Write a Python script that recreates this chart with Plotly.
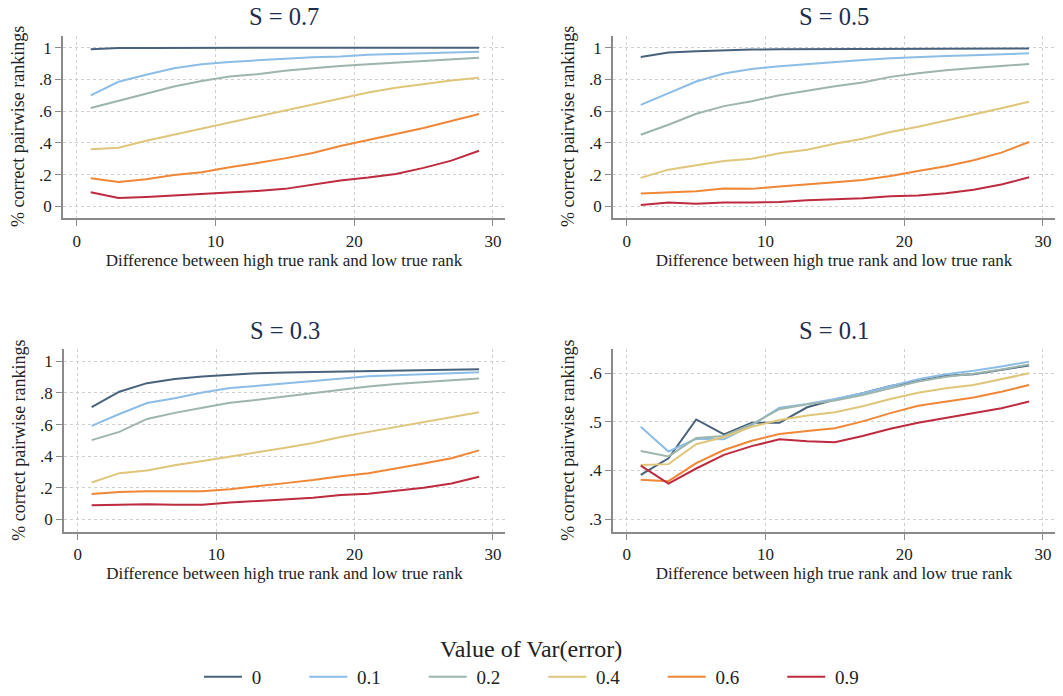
import plotly.graph_objects as go

# ---------------- data ----------------
x_diff = [1, 3, 5, 7, 9, 11, 13, 15, 17, 19, 21, 23, 25, 27, 29]
var_labels = ["0", "0.1", "0.2", "0.4", "0.6", "0.9"]
panel_titles = ["S = 0.7", "S = 0.5", "S = 0.3", "S = 0.1"]

s07_v0 = [0.99, 0.998, 0.998, 0.999, 0.999, 0.999, 0.999, 0.999, 0.999, 0.999, 0.999, 0.999, 0.999, 0.999, 0.999]
s07_v1 = [0.70, 0.785, 0.83, 0.87, 0.895, 0.91, 0.92, 0.93, 0.94, 0.945, 0.955, 0.96, 0.965, 0.97, 0.975]
s07_v2 = [0.62, 0.665, 0.71, 0.755, 0.79, 0.818, 0.833, 0.855, 0.87, 0.885, 0.895, 0.905, 0.915, 0.925, 0.937]
s07_v4 = [0.36, 0.37, 0.414, 0.452, 0.49, 0.531, 0.57, 0.607, 0.644, 0.684, 0.718, 0.747, 0.772, 0.793, 0.81]
s07_v6 = [0.178, 0.155, 0.172, 0.199, 0.215, 0.247, 0.274, 0.303, 0.337, 0.381, 0.418, 0.456, 0.494, 0.538, 0.582]
s07_v9 = [0.09, 0.054, 0.06, 0.069, 0.079, 0.088, 0.098, 0.111, 0.138, 0.163, 0.182, 0.205, 0.243, 0.289, 0.351]

s05_v0 = [0.941, 0.969, 0.978, 0.985, 0.988, 0.99, 0.991, 0.992, 0.993, 0.993, 0.994, 0.994, 0.995, 0.995, 0.995]
s05_v1 = [0.64, 0.715, 0.787, 0.837, 0.866, 0.883, 0.897, 0.912, 0.923, 0.933, 0.941, 0.947, 0.952, 0.957, 0.964]
s05_v2 = [0.452, 0.515, 0.584, 0.632, 0.663, 0.70, 0.728, 0.757, 0.78, 0.816, 0.839, 0.858, 0.872, 0.885, 0.897]
s05_v4 = [0.18, 0.232, 0.259, 0.287, 0.301, 0.335, 0.358, 0.395, 0.427, 0.469, 0.502, 0.54, 0.577, 0.619, 0.659]
s05_v6 = [0.082, 0.09, 0.096, 0.113, 0.111, 0.126, 0.138, 0.153, 0.167, 0.192, 0.224, 0.253, 0.291, 0.339, 0.406]
s05_v9 = [0.01, 0.025, 0.017, 0.025, 0.025, 0.029, 0.04, 0.044, 0.052, 0.065, 0.069, 0.084, 0.105, 0.138, 0.184]

s03_v0 = [0.711, 0.808, 0.862, 0.889, 0.904, 0.914, 0.925, 0.93, 0.933, 0.935, 0.937, 0.94, 0.942, 0.944, 0.95]
s03_v1 = [0.592, 0.667, 0.736, 0.766, 0.803, 0.831, 0.845, 0.86, 0.877, 0.891, 0.906, 0.912, 0.918, 0.925, 0.931]
s03_v2 = [0.502, 0.554, 0.636, 0.674, 0.707, 0.738, 0.757, 0.778, 0.797, 0.818, 0.841, 0.856, 0.87, 0.881, 0.891]
s03_v4 = [0.234, 0.293, 0.31, 0.343, 0.37, 0.397, 0.425, 0.454, 0.483, 0.521, 0.554, 0.586, 0.617, 0.646, 0.678]
s03_v6 = [0.161, 0.174, 0.178, 0.178, 0.178, 0.192, 0.209, 0.23, 0.249, 0.274, 0.293, 0.322, 0.354, 0.387, 0.437]
s03_v9 = [0.09, 0.094, 0.096, 0.094, 0.094, 0.107, 0.117, 0.128, 0.138, 0.155, 0.163, 0.182, 0.201, 0.228, 0.27]

s01_v0 = [0.391, 0.425, 0.505, 0.474, 0.498, 0.498, 0.530, 0.546, 0.559, 0.574, 0.584, 0.595, 0.598, 0.607, 0.616]
s01_v1 = [0.49, 0.439, 0.465, 0.464, 0.493, 0.529, 0.537, 0.547, 0.559, 0.574, 0.588, 0.598, 0.605, 0.614, 0.624]
s01_v2 = [0.44, 0.429, 0.467, 0.471, 0.495, 0.526, 0.536, 0.544, 0.555, 0.569, 0.583, 0.593, 0.599, 0.608, 0.618]
s01_v4 = [0.411, 0.413, 0.454, 0.469, 0.49, 0.504, 0.513, 0.52, 0.532, 0.547, 0.56, 0.569, 0.576, 0.588, 0.60]
s01_v6 = [0.381, 0.378, 0.415, 0.442, 0.461, 0.475, 0.481, 0.487, 0.501, 0.518, 0.533, 0.542, 0.55, 0.562, 0.576]
s01_v9 = [0.41, 0.373, 0.404, 0.432, 0.45, 0.464, 0.46, 0.458, 0.471, 0.486, 0.498, 0.508, 0.519, 0.528, 0.542]

x_tickvals = [0, 10, 20, 30]
y_tickvals_main = [0, 0.2, 0.4, 0.6, 0.8, 1.0]
y_ticktext_main = ["0", ".2", ".4", ".6", ".8", "1"]
y_tickvals_s01 = [0.3, 0.4, 0.5, 0.6]
y_ticktext_s01 = [".3", ".4", ".5", ".6"]

x_title = "Difference between high true rank and low true rank"
y_title = "% correct pairwise rankings"
legend_title = "Value of Var(error)"

# ---------------- styling ----------------
colors = ["#48627c", "#8cbde6", "#9db5ac", "#dfc67a", "#f08737", "#be2a3e"]
FONT = "Liberation Serif"
TXT = "#222222"
W, H = 1063, 696

panels = [
    [s07_v0, s07_v1, s07_v2, s07_v4, s07_v6, s07_v9],
    [s05_v0, s05_v1, s05_v2, s05_v4, s05_v6, s05_v9],
    [s03_v0, s03_v1, s03_v2, s03_v4, s03_v6, s03_v9],
    [s01_v0, s01_v1, s01_v2, s01_v4, s01_v6, s01_v9],
]

# pixel boxes of plot areas (left, right, top, bottom)
boxes = [(63, 505, 36, 220), (613, 1055, 36, 220), (64, 505, 352, 536), (613, 1055, 352, 536)]
yranges = [[-0.075, 1.075], [-0.075, 1.075], [-0.08, 1.075], [0.273, 0.649]]

fig = go.Figure()
layout = {}
annotations = []
NBSP = "\u00a0"
for i, series in enumerate(panels):
    n = "" if i == 0 else str(i + 1)
    xa, ya = "x" + n, "y" + n
    for j, vals in enumerate(series):
        fig.add_trace(go.Scatter(
            x=x_diff, y=vals, mode="lines", xaxis=xa, yaxis=ya,
            line=dict(color=colors[j], width=2),
            name=NBSP + var_labels[j] + NBSP * 8, legendgroup=var_labels[j], showlegend=(i == 0),
        ))
    l, r, t, b = boxes[i]
    common = dict(
        showline=True, linecolor="#8a8a8a", linewidth=1.5, mirror=False,
        ticks="outside", ticklen=6, tickcolor="#8a8a8a", tickwidth=1.3,
        showgrid=True, gridcolor="#cfcfcf", griddash="dot", gridwidth=1,
        zeroline=False, automargin=False,
        tickfont=dict(family=FONT, size=17, color=TXT),
    )
    layout["xaxis" + n] = dict(
        common, domain=[l / W, r / W], anchor=ya, range=[-1.0, 30.87],
        tickvals=x_tickvals, ticktext=[str(v) for v in x_tickvals],
        title=dict(text=x_title, font=dict(family=FONT, size=17, color=TXT), standoff=4),
    )
    if i < 3:
        tv, tt = y_tickvals_main, y_ticktext_main
    else:
        tv, tt = y_tickvals_s01, y_ticktext_s01
    layout["yaxis" + n] = dict(
        common, domain=[1 - b / H, 1 - t / H], anchor=xa, range=yranges[i],
        tickvals=tv, ticktext=tt,
    )
    annotations.append(dict(
        text=y_title, textangle=-90, xref="paper", yref="paper",
        x=(l - 45) / W, y=1 - (t + b) / 2 / H, showarrow=False,
        font=dict(family=FONT, size=18, color=TXT), xanchor="center", yanchor="middle",
    ))
    annotations.append(dict(
        text=panel_titles[i], xref="paper", yref="paper",
        x=(l + r) / 2 / W, y=1 - (t - 19) / H, showarrow=False,
        font=dict(family=FONT, size=24.5, color="#1e2d50"), xanchor="center", yanchor="middle",
    ))

annotations.append(dict(
    text=legend_title, xref="paper", yref="paper", x=531 / W, y=1 - 654 / H,
    showarrow=False, font=dict(family=FONT, size=24, color=TXT),
    xanchor="center", yanchor="middle",
))

fig.update_layout(
    **layout,
    width=W, height=H, autosize=False,
    margin=dict(l=0, r=0, t=0, b=0),
    paper_bgcolor="white", plot_bgcolor="white",
    font=dict(family=FONT, color=TXT),
    annotations=annotations,
    legend=dict(
        orientation="h", x=199 / W, xanchor="left", y=1 - 682 / H, yanchor="middle",
        font=dict(family=FONT, size=19, color=TXT),
        itemwidth=38,
        bgcolor="rgba(0,0,0,0)",
    ),
)

fig.write_html("out.html", post_script="document.body.style.margin='0';",
               config={"displayModeBar": False})
